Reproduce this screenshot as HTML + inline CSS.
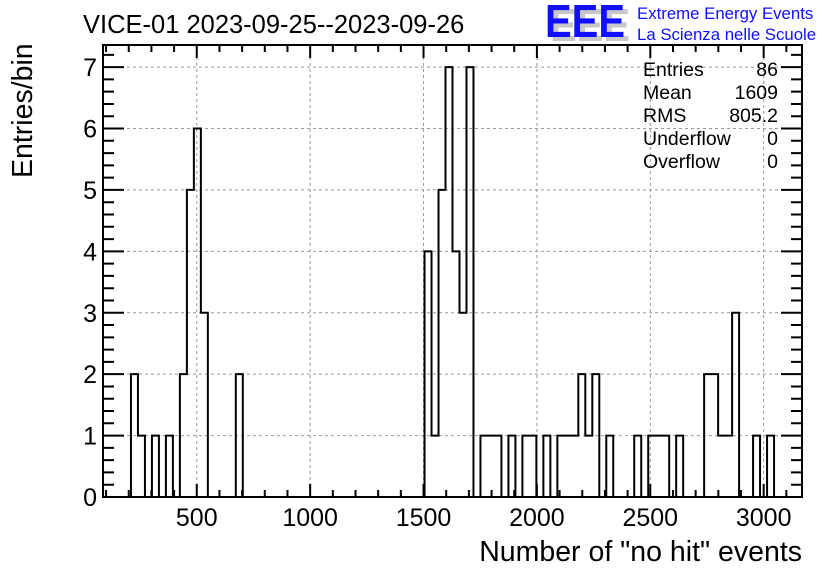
<!DOCTYPE html>
<html><head><meta charset="utf-8"><style>
html,body{margin:0;padding:0;background:#fff;}
svg text{font-family:"Liberation Sans",Arial,sans-serif;}
</style></head><body>
<svg id="chart" width="836" height="572" viewBox="0 0 836 572" xmlns="http://www.w3.org/2000/svg">
<rect x="0" y="0" width="836" height="572" fill="#fff"/>
<g id="grid"></g>
<g id="ticks"></g>
<g id="hist"></g>
<rect x="103" y="45" width="699" height="452" fill="none" stroke="#000" stroke-width="2"/>
<text x="83" y="33" font-size="25.5">VICE-01 2023-09-25--2023-09-26</text>
<g>
<text x="550" y="41" font-size="46" font-weight="bold" fill="#c8c8c8" textLength="80" lengthAdjust="spacingAndGlyphs">EEE</text>
<text x="545" y="37" font-size="46" font-weight="bold" fill="#1010ff" textLength="80" lengthAdjust="spacingAndGlyphs">EEE</text>
<text x="637" y="19" font-size="16.8" fill="#1010ff">Extreme Energy Events</text>
<text x="637" y="40" font-size="16.8" fill="#1010ff">La Scienza nelle Scuole</text>
</g>
<g font-size="19.5">
<text x="643" y="76">Entries</text><text x="778" y="76" text-anchor="end">86</text>
<text x="643" y="99">Mean</text><text x="778" y="99" text-anchor="end">1609</text>
<text x="643" y="122">RMS</text><text x="778" y="122" text-anchor="end">805.2</text>
<text x="643" y="145">Underflow</text><text x="778" y="145" text-anchor="end">0</text>
<text x="643" y="168">Overflow</text><text x="778" y="168" text-anchor="end">0</text>
</g>
<text transform="translate(32,178) rotate(-90)" font-size="28.5">Entries/bin</text>
<text x="802" y="561" font-size="28.5" text-anchor="end">Number of "no hit" events</text>
<g id="labels"></g>
</svg>
<script>
const counts = [0,0,0,0,2,1,0,1,0,1,0,2,5,6,3,0,0,0,0,2,
0,0,0,0,0,0,0,0,0,0,0,0,0,0,0,0,0,0,0,0,
0,0,0,0,0,0,4,1,5,7,4,3,7,0,1,1,1,0,1,0,
1,1,0,1,0,1,1,1,2,1,2,0,1,0,0,0,1,0,1,1,
1,0,1,0,0,0,2,2,1,1,3,0,0,1,0,1,0,0,0,0];
const xTicks = [500,1000,1500,2000,2500,3000];
const yTicks = [0,1,2,3,4,5,6,7];
const xMin = 86.5, xMax = 3169, yMax = 7.36;
const L=103,R=802,T=45,B=497;
const NS='http://www.w3.org/2000/svg';
function X(v){return L+(v-xMin)/(xMax-xMin)*(R-L);}
function Y(v){return B-v/yMax*(B-T);}
function mk(tag,attrs,parent){const e=document.createElementNS(NS,tag);for(const k in attrs)e.setAttribute(k,attrs[k]);parent.appendChild(e);return e;}
const grid=document.getElementById('grid'),ticks=document.getElementById('ticks'),labels=document.getElementById('labels'),hist=document.getElementById('hist');
xTicks.forEach(v=>{
  const l=mk('line',{x1:X(v),x2:X(v),y1:T,y2:B,stroke:'#999','stroke-dasharray':'3,3','stroke-width':1},grid);
  
  
  const t=mk('text',{x:X(v),y:526,'font-size':25,'text-anchor':'middle'},labels);
  t.textContent=v;
  
  
});
yTicks.forEach(v=>{
  if(v>0){const l=mk('line',{x1:L,x2:R,y1:Y(v),y2:Y(v),stroke:'#999','stroke-dasharray':'3,3','stroke-width':1},grid);
  
  }
  const t=mk('text',{x:97,y:Y(v)+9,'font-size':25,'text-anchor':'end'},labels);
  t.textContent=v;
  
  
});
let d='';
for(let v=100;v<xMax;v+=100){const maj=v%500===0,len=maj?13:7;const x=X(v);if(x<L)continue;
 d+=`M${x},${B}v${-len}M${x},${T}v${len}`;}
for(let v=0;v<=yMax;v+=0.2){const maj=Math.abs(v-Math.round(v))<1e-6,len=maj?21:11;const y=Y(v);
 d+=`M${L},${y}h${len}M${R},${y}h${-len}`;}
const tk=mk('path',{d:d,stroke:'#000','stroke-width':2,fill:'none'},ticks);


const bw=(xMax-xMin)/counts.length;
let p=`M${X(xMin)},${Y(0)}`;
counts.forEach((c,i)=>{const x0=X(xMin+i*bw),x1=X(xMin+(i+1)*bw);p+=`L${x0},${Y(c)}L${x1},${Y(c)}`;});
p+=`L${X(xMax)},${Y(0)}`;
const hp=mk('path',{d:p,stroke:'#000','stroke-width':2,fill:'none'},hist);


</script>
</body></html>
